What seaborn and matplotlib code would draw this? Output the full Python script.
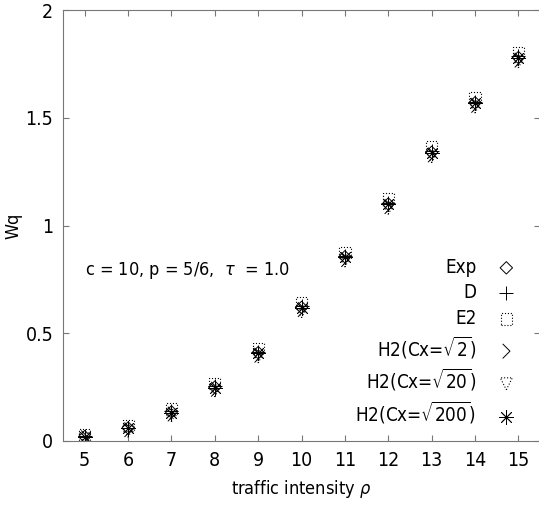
import numpy as np
import matplotlib
matplotlib.use("Agg")
import matplotlib.pyplot as plt
from matplotlib.path import Path
import seaborn as sns

# traffic intensity (x) and Wq per arrival model
rho = [5, 6, 7, 8, 9, 10, 11, 12, 13, 14, 15]
wq_exp = [0.020, 0.060, 0.135, 0.250, 0.410, 0.620, 0.855, 1.100, 1.340, 1.570, 1.780]
wq_d = [0.022, 0.062, 0.138, 0.255, 0.415, 0.625, 0.860, 1.105, 1.345, 1.575, 1.785]
wq_e2 = [0.028, 0.070, 0.148, 0.268, 0.430, 0.640, 0.875, 1.125, 1.365, 1.595, 1.805]
wq_h2_2 = [0.015, 0.052, 0.125, 0.240, 0.398, 0.610, 0.842, 1.088, 1.328, 1.558, 1.768]
wq_h2_20 = [0.010, 0.045, 0.118, 0.232, 0.390, 0.600, 0.835, 1.080, 1.320, 1.550, 1.760]
wq_h2_200 = [0.018, 0.058, 0.132, 0.248, 0.408, 0.618, 0.852, 1.098, 1.338, 1.568, 1.778]

labels = ["Exp", "D", "E2", r"H2(Cx=$\sqrt{2}$)", r"H2(Cx=$\sqrt{20}$)", r"H2(Cx=$\sqrt{200}$)"]

sns.set_style("ticks")
plt.rcParams['font.family'] = ['DejaVu Sans']
plt.rcParams['font.stretch'] = 'condensed'
plt.rcParams['mathtext.fontset'] = 'dejavusans'
plt.rcParams['text.color'] = 'black'
plt.rcParams['axes.labelcolor'] = 'black'
plt.rcParams['xtick.labelcolor'] = 'black'
plt.rcParams['ytick.labelcolor'] = 'black'

fig = plt.figure(figsize=(5.39, 5.08), dpi=100)
ax = fig.add_axes([0.117, 0.132, 0.885, 0.848])

chevron = Path([(-0.5, 1.0), (0.5, 0.0), (-0.5, -1.0)],
               [Path.MOVETO, Path.LINETO, Path.LINETO])

series = [wq_exp, wq_d, wq_e2, wq_h2_2, wq_h2_20, wq_h2_200]
styles = [
    dict(marker="D", s=40, facecolors="none", edgecolors="k", linewidths=0.7),
    dict(marker="+", s=100, color="k", linewidths=0.7),
    dict(marker="s", s=65, facecolors="none", edgecolors="k", linewidths=0.8, linestyle=":"),
    dict(marker=chevron, s=110, facecolors="none", edgecolors="k", linewidths=0.7),
    dict(marker="v", s=75, facecolors="none", edgecolors="k", linewidths=0.8, linestyle=":"),
    dict(marker=(8, 2, 0), s=100, color="k", linewidths=0.6),
]
for vals, lab, st in zip(series, labels, styles):
    sns.scatterplot(x=rho, y=vals, ax=ax, label=lab, **st)

ax.set_xlim(4.5, 15.5)
ax.set_ylim(0, 2)
ax.set_xticks(rho)
ax.set_yticks([0, 0.5, 1, 1.5, 2])
ax.set_yticklabels(["0", "0.5", "1", "1.5", "2"])
ax.tick_params(direction="in", length=4, top=True, right=True, labelsize=14,
               color="#777777", pad=7)
for sp in ax.spines.values():
    sp.set_color("#777777")

ax.set_xlabel(r"traffic intensity $\rho$", fontsize=13, labelpad=6)
ax.set_ylabel("Wq", fontsize=13)
ax.yaxis.set_label_coords(-0.085, 0.5)
ax.text(5.0, 0.79, r"c = 10, p = 5/6,  $\tau$  = 1.0", fontsize=13, va="center")

ax.legend(loc="lower right", frameon=False, markerfirst=False, fontsize=13.5,
          labelspacing=0.35, handletextpad=0.6, borderaxespad=0.2, borderpad=0.6)

fig.savefig("out.png", dpi=100)
